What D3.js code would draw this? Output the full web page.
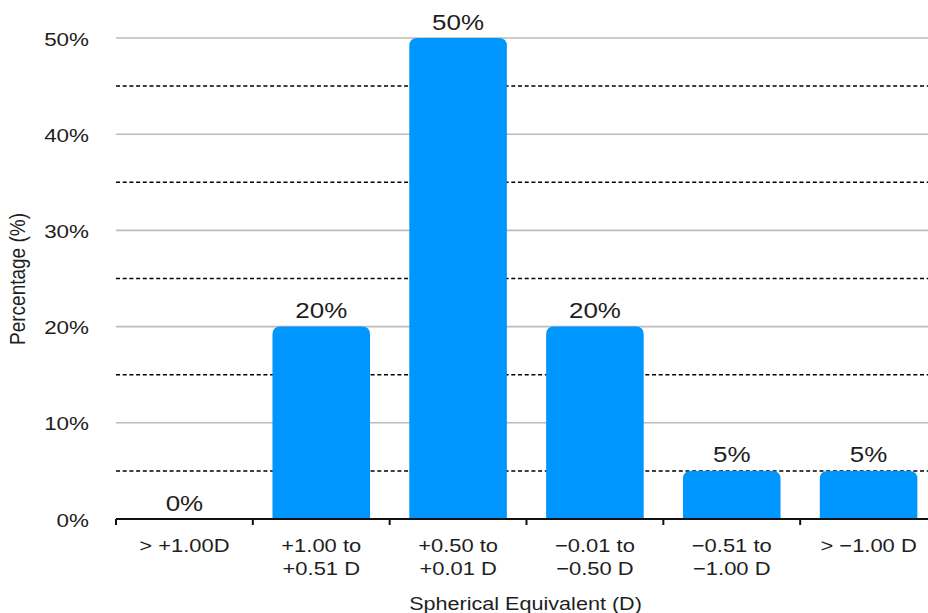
<!DOCTYPE html>
<html>
<head>
<meta charset="utf-8">
<script src="https://cdn.jsdelivr.net/npm/d3@7"></script>
<style>
  html, body { margin: 0; padding: 0; background: #fff; }
  svg { display: block; font-family: "Liberation Sans", Arial, Helvetica, sans-serif; }
</style>
</head>
<body>
<svg id="chart" width="928" height="613"></svg>
<script>
// Distribution of spherical equivalent refraction
const categories = [
  ["> +1.00D"],
  ["+1.00 to", "+0.51 D"],
  ["+0.50 to", "+0.01 D"],
  ["\u22120.01 to", "\u22120.50 D"],
  ["\u22120.51 to", "\u22121.00 D"],
  ["> \u22121.00 D"]
];
const percentages = [0, 20, 50, 20, 5, 5];
const majorTicks = [0, 10, 20, 30, 40, 50];
const minorTicks = [5, 15, 25, 35, 45];

const svg = d3.select("#chart");
const plotLeft = 116, plotRight = 937, plotTop = 38, plotBottom = 519;
const textColor = "#1e1e1e";
const sx = 1.18; // wide lettering

const x = d3.scaleBand()
  .domain(d3.range(categories.length))
  .range([plotLeft, plotRight])
  .paddingInner(0.287)
  .paddingOuter(0.1435);

const y = d3.scaleLinear().domain([0, 50]).range([plotBottom, plotTop]);

// helper: text placed at (px, py), stretched horizontally
function wideText(sel, px, py, size, anchor, str) {
  return sel.append("text")
    .attr("transform", `translate(${px},${py}) scale(${sx},1)`)
    .attr("text-anchor", anchor)
    .attr("font-size", size)
    .attr("fill", textColor)
    .text(str);
}

// solid grid lines every 10%
svg.append("g").selectAll("line").data(majorTicks.filter(d => d > 0)).join("line")
  .attr("x1", plotLeft).attr("x2", 928)
  .attr("y1", d => y(d)).attr("y2", d => y(d))
  .attr("stroke", "#bcbcbc").attr("stroke-width", 1.6);

// dashed grid lines at the 5% midpoints
svg.append("g").selectAll("line").data(minorTicks).join("line")
  .attr("x1", plotLeft).attr("x2", 928)
  .attr("y1", d => y(d)).attr("y2", d => y(d))
  .attr("stroke", "#000").attr("stroke-width", 1.5)
  .attr("stroke-dasharray", "4,2.7");

// y tick labels
const yLab = svg.append("g");
majorTicks.forEach(t => wideText(yLab, 89, y(t) + 7.5, 19, "end", t + "%"));

// bars with rounded top corners
const r = 8;
const barData = percentages.map((v, i) => ({ v, i })).filter(d => d.v > 0);
function barPath(d) {
  const x0 = x(d.i), w = x.bandwidth(), y0 = y(d.v), y1 = y(0);
  const rr = Math.min(r, (y1 - y0));
  return `M${x0},${y1} L${x0},${y0 + rr} Q${x0},${y0} ${x0 + rr},${y0} ` +
         `L${x0 + w - rr},${y0} Q${x0 + w},${y0} ${x0 + w},${y0 + rr} L${x0 + w},${y1} Z`;
}
svg.append("g").selectAll("path").data(barData).join("path")
  .attr("d", barPath)
  .attr("fill", "#0096ff");

// value labels
const vLab = svg.append("g");
percentages.forEach((v, i) =>
  wideText(vLab, x(i) + x.bandwidth() / 2, y(v) - 8.5, 22, "middle", v + "%"));

// x axis
const axis = svg.append("g");
axis.append("line")
  .attr("x1", plotLeft).attr("x2", 928)
  .attr("y1", plotBottom).attr("y2", plotBottom)
  .attr("stroke", "#111").attr("stroke-width", 2);
const step = x.step();
const boundaries = d3.range(categories.length + 1).map(i => x(0) - x.paddingOuter() * step + i * step);
axis.selectAll("line.tick").data(boundaries).join("line")
  .attr("class", "tick")
  .attr("x1", d => d).attr("x2", d => d)
  .attr("y1", plotBottom).attr("y2", plotBottom + 6)
  .attr("stroke", "#111").attr("stroke-width", 2);

// category labels
categories.forEach((lines, i) => {
  lines.forEach((l, j) =>
    wideText(axis, x(i) + x.bandwidth() / 2, 552 + j * 23, 18.6, "middle", l));
});

// axis titles
wideText(svg, (plotLeft + plotRight) / 2 - 1, 610, 18.3, "middle", "Spherical Equivalent (D)");

svg.append("text")
  .attr("transform", `translate(25, 279) scale(${sx},1) rotate(-90)`)
  .attr("text-anchor", "middle")
  .attr("font-size", 19).attr("fill", textColor)
  .text("Percentage (%)");
</script>
</body>
</html>
